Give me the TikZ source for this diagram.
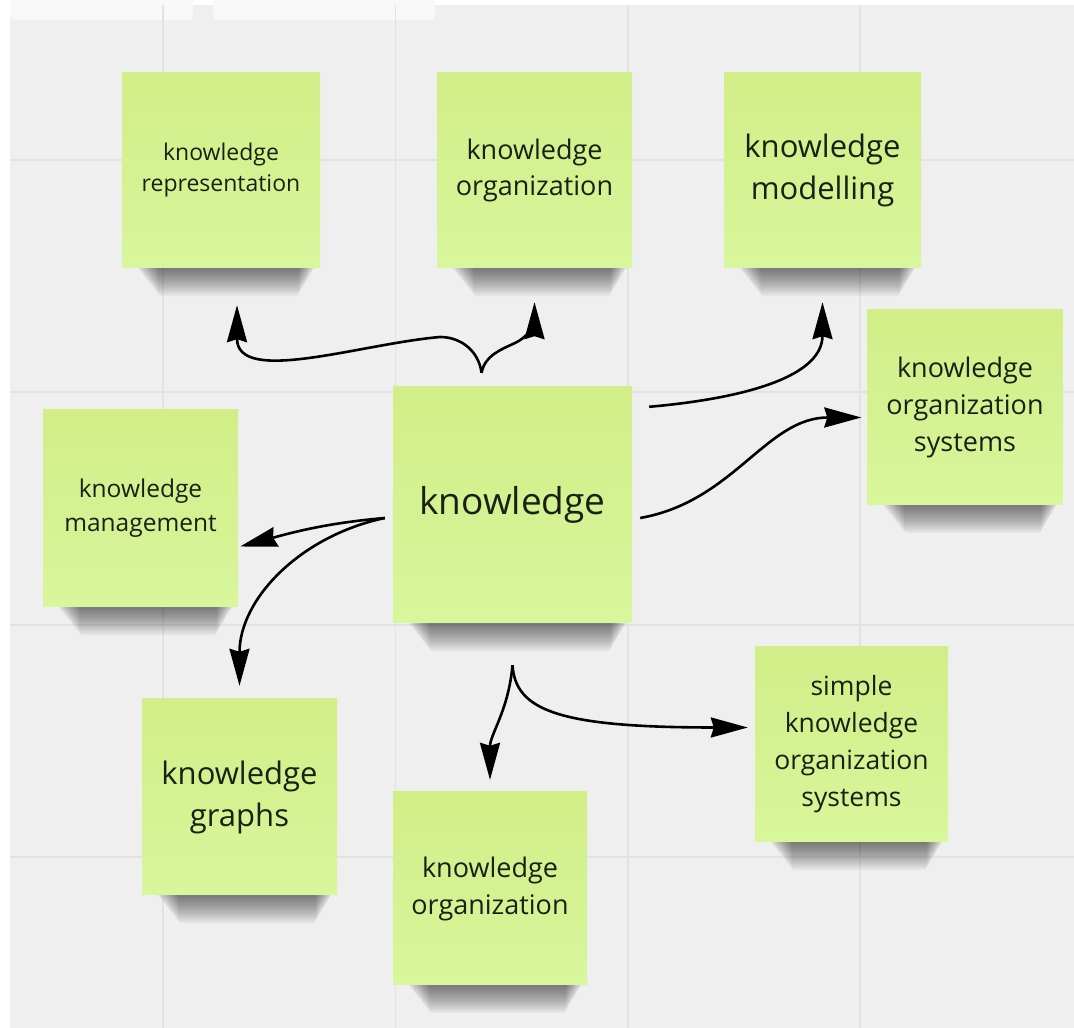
\documentclass[tikz,border=0pt]{standalone}
\usepackage{fontspec}
\setmainfont{Open Sans}
\usetikzlibrary{arrows.meta, calc, positioning}

\definecolor{board}{RGB}{239,239,239}
\definecolor{gridline}{RGB}{226,226,226}
\definecolor{topbar}{RGB}{248,248,248}
\definecolor{notetop}{RGB}{209,238,136}
\definecolor{notebottom}{RGB}{216,246,155}
\definecolor{notetext}{RGB}{26,32,22}

\pgfdeclarelayer{bg}
\pgfdeclarelayer{shade}
\pgfsetlayers{bg,shade,main}

\begin{document}
\begin{tikzpicture}[x=1pt, y=1pt,
        sticky/.style={rectangle, minimum width=195pt, minimum height=195pt, inner sep=0pt,
            top color=notetop, bottom color=notebottom, text=notetext, align=center},
        link/.style={line width=2.6pt, -{Stealth[length=37pt, width=20pt, inset=3pt]}}]
    \useasboundingbox (0,0) rectangle (1074,1028);

    % board with grid
    \begin{pgfonlayer}{bg}
        \fill[white] (0,0) rectangle (1074,1028);
        \fill[board] (10,0) rectangle (1074,1023);
        \fill[topbar, rounded corners=5pt] (10,1008) rectangle (193,1035);
        \fill[topbar, rounded corners=5pt] (213,1008) rectangle (435,1035);
        \foreach \gx in {163, 395.5, 628, 860}
            \draw[gridline, line width=1.5pt] (\gx,0) -- (\gx,1023);
        \foreach \gy in {868, 636, 403, 171}
            \draw[gridline, line width=1.5pt] (10,\gy) -- (1074,\gy);
    \end{pgfonlayer}

    % sticky notes
    \node[sticky, minimum width=239pt, minimum height=236pt, font=\fontsize{37}{48}\selectfont] (know) at (512.5,523) {knowledge};
    \node[sticky, minimum width=198pt, font=\fontsize{23}{31}\selectfont] (rep) at (221,857.5) {knowledge\\representation};
    \node[sticky, font=\fontsize{27}{36}\selectfont] (orgtop) at (534.5,857.5) {knowledge\\organization};
    \node[sticky, minimum width=197pt, font=\fontsize{31}{42}\selectfont] (model) at (822.5,857.5) {knowledge\\modelling};
    \node[sticky, font=\fontsize{27}{37}\selectfont] (kos) at (965,620.5) {knowledge\\organization\\systems};
    \node[sticky, minimum height=197pt, font=\fontsize{24.5}{34}\selectfont] (mgmt) at (140.5,519.5) {knowledge\\management};
    \node[sticky, minimum height=196pt, font=\fontsize{31}{42}\selectfont] (graphs) at (239.5,231) {knowledge\\graphs};
    \node[sticky, minimum width=194pt, minimum height=193pt, font=\fontsize{27}{37}\selectfont] (orgbot) at (490,139.5) {knowledge\\organization};
    \node[sticky, minimum width=193pt, font=\fontsize{26.5}{37}\selectfont] (simple) at (851.5,283.5) {simple\\knowledge\\organization\\systems};

    % soft shadows under the notes
    \begin{pgfonlayer}{shade}
        \foreach \n in {know, rep, orgtop, model, kos, mgmt, graphs, orgbot, simple}
            \foreach \k in {0,...,13}
                \fill[black, opacity=0.045, rounded corners=3pt]
                    ($(\n.south west)+(16+1.6*\k,3)$) rectangle ($(\n.south east)+(-6-1.2*\k,-2-2*\k)$);
    \end{pgfonlayer}

    % arrow ends
    \coordinate (kt) at ($(know.north)+(-31,14)$);
    \coordinate (kne) at ($(know.north east)+(17,-20)$);
    \coordinate (ke) at ($(know.east)+(8,-13)$);
    \coordinate (kw) at ($(know.west)+(-8,-13)$);
    \coordinate (ks) at ($(know.south)+(0,-42)$);
    \coordinate (reptip) at ($(rep.south)+(16,-37)$);
    \coordinate (orgtoptip) at ($(orgtop.south)+(0,-34)$);
    \coordinate (modeltip) at ($(model.south)+(0,-34)$);
    \coordinate (kostip) at ($(kos.west)+(-6,-10)$);
    \coordinate (mgmttip) at ($(mgmt.east)+(2,-38)$);
    \coordinate (graphstip) at ($(graphs.north)+(0,13)$);
    \coordinate (orgbottip) at ($(orgbot.north)+(0,12)$);
    \coordinate (simpletip) at ($(simple.west)+(-7,17)$);

    % arrows
    \draw[link] (kt) to[out=97, in=0] (440,691) to[out=185, in=-90] (reptip);
    \draw[link] (kt) to[out=78, in=205] (515,685) to[out=25, in=-90] (orgtoptip);
    \draw[link] (kne) to[out=5, in=-90] (modeltip);
    \draw[link] (ke) to[out=10, in=180] (kostip);
    \draw[link] (kw) to[out=185, in=15] (mgmttip);
    \draw[link] (kw) to[out=192, in=90] (graphstip);
    \draw[link] (ks) to[out=-95, in=90] (orgbottip);
    \draw[link] (ks) .. controls +(3,-45) and +(-190,0) .. (simpletip);
\end{tikzpicture}
\end{document}
